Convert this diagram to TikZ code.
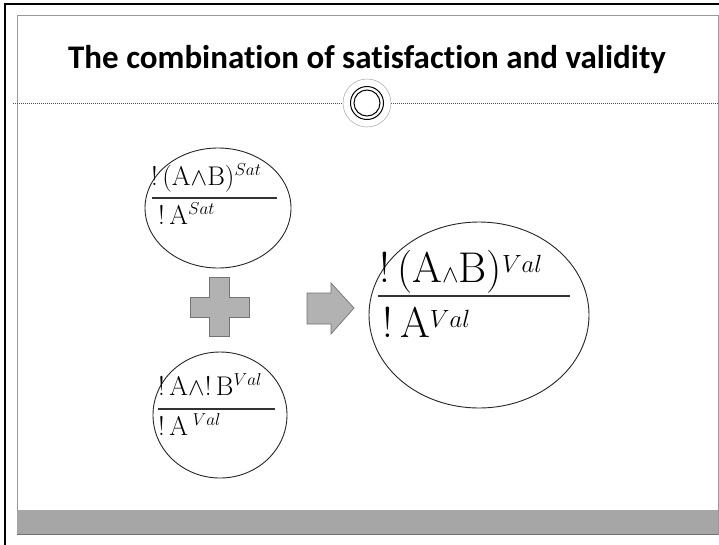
\documentclass[tikz,border=0pt]{standalone}
\usepackage{fontspec}
\newfontfamily\titlefont[Ligatures=NoCommon]{Carlito}
\usetikzlibrary{shapes.geometric}
\begin{document}
\begin{tikzpicture}[x=1pt,y=-1pt,
  bubble/.style={draw=black!85,line width=0.9pt,ellipse,inner sep=0pt},
  fractxt/.style={anchor=base west,inner sep=0pt},
  fracline/.style={line width=1.3pt,black!80},
  shapefill/.style={fill=black!30,draw=black!55,line width=0.7pt}]
\useasboundingbox (0,0) rectangle (719,544);
\fill[white] (0,0) rectangle (719,544);
% frames
\draw[line width=2pt,black] (5,546) -- (5,4) -- (721,4);
\draw[black!40,line width=0.8pt] (17,535) -- (17,15) -- (718,15) -- (718,535);
\fill[black!35] (17,510) rectangle (718,534);
\draw[black!55,line width=0.8pt] (17,534) -- (718,534);
% title
\node[inner sep=0pt,anchor=base,font=\titlefont\bfseries\fontsize{33}{38}\selectfont] (title) at (367,68) {The combination of satisfaction and validity};
\coordinate (dl) at (13,103);
\coordinate (dr) at (718,103);
\draw[black!70,dash pattern=on 1.2pt off 0.8pt,line width=0.6pt] (dl) -- (dr);
% ring
\node[circle,fill=white,draw=black!35,line width=0.5pt,minimum size=48pt,inner sep=0pt] (ring) at (367,103) {};
\draw[black,line width=1pt] (ring.center) circle[radius=16.5];
\draw[black,line width=1pt] (ring.center) circle[radius=13];
% bubbles
\node[bubble,minimum width=146pt,minimum height=120pt] (c1) at (218,208) {};
\node[bubble,minimum width=134pt,minimum height=126pt] (c2) at (220,415) {};
\node[bubble,minimum width=220pt,minimum height=186pt] (c3) at (479,315) {};
% fractions top
\node[fractxt,font=\fontsize{27}{32}\selectfont] (t1) at (151,185) {!\,(A$\wedge$B)$^{Sat}$};
\coordinate (t1l) at (152,198);
\coordinate (t1r) at (277,198);
\draw[fracline] (t1l) -- (t1r);
\node[fractxt,font=\fontsize{27}{32}\selectfont] (b1) at (158,224) {!\,A$^{Sat}$};
% bottom
\node[fractxt,font=\fontsize{27}{32}\selectfont] (t2) at (158,395) {!\,A$\wedge$!\,B$^{Val}$};
\coordinate (t2l) at (158,409);
\coordinate (t2r) at (275,409);
\draw[fracline] (t2l) -- (t2r);
\node[fractxt,font=\fontsize{27}{32}\selectfont] (b2) at (158,435) {!\,A\,$^{Val}$};
% big
\node[fractxt,font=\fontsize{43}{50}\selectfont] (t3) at (379,282) {!\,(A$\wedge$B)$^{Val}$};
\coordinate (t3l) at (378,296);
\coordinate (t3r) at (570,296);
\draw[fracline,line width=1.8pt] (t3l) -- (t3r);
\node[fractxt,font=\fontsize{43}{50}\selectfont] (b3) at (382,337) {!\,A$^{Val}$};
% plus
\draw[shapefill] (209,277) -- (229,277) -- (229,297) -- (249,297) -- (249,317) -- (229,317) -- (229,336) -- (209,336) -- (209,317) -- (190,317) -- (190,297) -- (209,297) -- cycle;
% arrow
\draw[shapefill] (307,293) -- (331,293) -- (331,283) -- (354,308) -- (331,334) -- (331,324) -- (307,324) -- cycle;
\end{tikzpicture}
\end{document}
